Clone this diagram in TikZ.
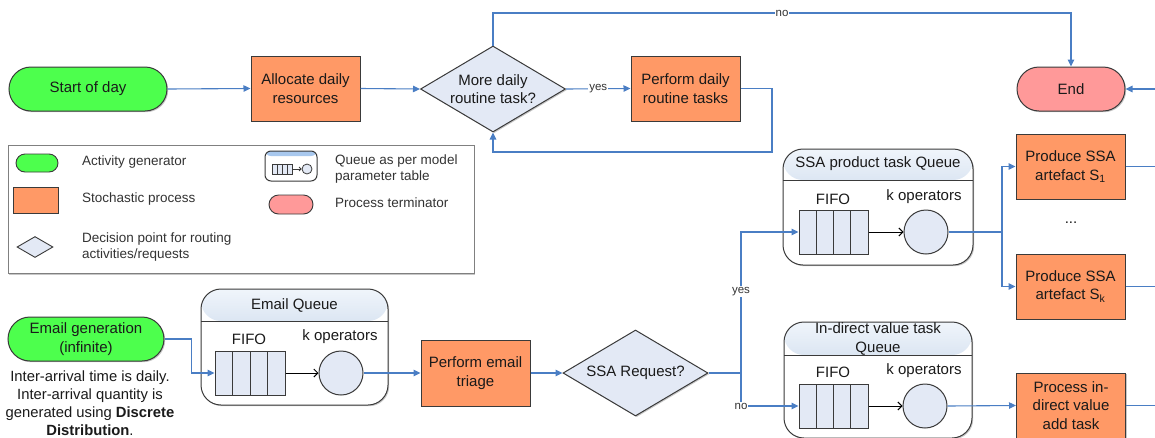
\documentclass[tikz,border=0pt]{standalone}
\usepackage{fontspec}
\setmainfont{Liberation Sans}
\usetikzlibrary{shapes.geometric,arrows.meta,calc,shadows}
\definecolor{genc}{HTML}{4DFF4D}
\definecolor{procc}{HTML}{FF9966}
\definecolor{termc}{HTML}{FF9999}
\definecolor{decc}{HTML}{E3E9F5}
\definecolor{cellc}{HTML}{E3E9F5}
\definecolor{flowc}{HTML}{4A7EC4}
\definecolor{bordc}{HTML}{3A3A3A}
\definecolor{qtop}{HTML}{F0F5FB}
\definecolor{qbot}{HTML}{A7BFDC}
\definecolor{txtc}{HTML}{1A1A1A}
\definecolor{legtxt}{HTML}{333333}
\definecolor{iconhdr}{HTML}{A8C8EE}
\begin{document}
\begin{tikzpicture}[x=1pt,y=-1pt,
  every node/.style={text=txtc},
  mainf/.style={font=\fontsize{15}{18.5}\selectfont},
  smallf/.style={font=\fontsize{11.5}{13}\selectfont},
  legf/.style={font=\fontsize{13.5}{16}\selectfont, text=legtxt},
  shad/.style={drop shadow={shadow xshift=1.2pt,shadow yshift=-1.2pt,fill=black,opacity=0.22}},
  gen/.style={draw=bordc, line width=1pt, fill=genc, rounded corners=22pt, minimum width=158pt, minimum height=44pt, inner sep=0pt, align=center, mainf, shad},
  term/.style={draw=bordc, line width=1pt, fill=termc, rounded corners=22pt, minimum width=108pt, minimum height=44pt, inner sep=0pt, align=center, mainf, shad},
  procbox/.style={draw=bordc, line width=1pt, fill=procc, minimum width=109pt, minimum height=65pt, inner sep=0pt, align=center, mainf, shad},
  decision/.style={draw=bordc, line width=1pt, fill=decc, shape=diamond, minimum width=145pt, minimum height=86pt, inner sep=0pt, shad},
  qcont/.style={draw=bordc, line width=1pt, fill=white, rounded corners=20pt, inner sep=0pt, shad,
    path picture={\shade[top color=qtop,bottom color=qbot] (path picture bounding box.north west) rectangle ([yshift=-#1]path picture bounding box.north east);
      \draw[bordc,line width=1pt] ([yshift=-#1]path picture bounding box.north west) -- ([yshift=-#1]path picture bounding box.north east);}},
  fifo/.style={draw=bordc, line width=1pt, fill=cellc, minimum width=69pt, minimum height=44pt, inner sep=0pt,
    path picture={\foreach \f in {0.25,0.5,0.75}{\draw[bordc,line width=1pt] ($(path picture bounding box.south west)!\f!(path picture bounding box.south east)$) -- ($(path picture bounding box.north west)!\f!(path picture bounding box.north east)$);}}},
  minififo/.style={draw=bordc, line width=0.7pt, fill=cellc, minimum width=20pt, minimum height=10pt, inner sep=0pt,
    path picture={\foreach \f in {0.25,0.5,0.75}{\draw[bordc,line width=0.7pt] ($(path picture bounding box.south west)!\f!(path picture bounding box.south east)$) -- ($(path picture bounding box.north west)!\f!(path picture bounding box.north east)$);}}},
  oper/.style={draw=bordc, line width=1pt, fill=cellc, circle, minimum size=44pt, inner sep=0pt},
  flow/.style={draw=flowc, line width=1.1pt, -{Triangle[length=7pt,width=6.5pt]}},
  flowline/.style={draw=flowc, line width=1.1pt},
  qarrow/.style={draw=black, line width=1pt, -{Straight Barb[length=4pt,width=8pt]}},
  lbl/.style={smallf, fill=white, inner sep=1pt, text=legtxt},
  plain/.style={inner sep=0pt}
]
\clip (0,0) rectangle (1155,437);
\fill[white] (0,0) rectangle (1155,437);

% ---------- top row ----------
\node[gen] (start) at (88,89) {Start of day};
\node[procbox] (alloc) at (305.5,88.5) {Allocate daily\\resources};
\node[decision] (more) at (493,89) {};
\node[mainf, align=center, plain] (moret) at (493,89) {More daily\\routine task?};
\node[procbox] (perf) at (685.5,88.5) {Perform daily\\routine tasks};
\node[term] (endn) at (1071,89) {End};
\coordinate (topy) at (0,13);
\coordinate (loopR) at (772,152);
\coordinate (endin) at (1155,89);

\draw[flow] (start.east) -- (alloc.west);
\draw[flow] (alloc.east) -- (more.west);
\draw[flow] (more.east) -- node[lbl, pos=0.5] (yes1) {yes} (perf.west);
\draw[flow] (more.north) -- (more.north |- topy) -| node[lbl, pos=0.25] (no1) {no} (endn.north);
\draw[flow] (perf.east) -| (loopR) -| (more.south);
\draw[flow] (endin) -- (endn.east);

% ---------- legend ----------
\node[draw=gray, line width=1pt, minimum width=466pt, minimum height=128pt, inner sep=0pt, shad, fill=white] (legend) at (241,209.5) {};
\node[draw=bordc, line width=0.9pt, fill=genc, rounded corners=9pt, minimum width=42pt, minimum height=18pt, inner sep=0pt] (lg1) at (37,163) {};
\node[legf, anchor=west, plain] (lt1) at (82,162) {Activity generator};
\node[draw=bordc, line width=0.9pt, fill=procc, minimum width=45pt, minimum height=26pt, inner sep=0pt] (lg2) at (35.5,200) {};
\node[legf, anchor=west, plain] (lt2) at (82,199) {Stochastic process};
\node[draw=bordc, line width=0.9pt, fill=decc, shape=diamond, minimum width=36pt, minimum height=21pt, inner sep=0pt] (lg3) at (35,247) {};
\node[legf, anchor=west, align=left, plain] (lt3) at (82,247) {Decision point for routing\\activities/requests};
\node[draw=bordc, line width=1pt, fill=white, rounded corners=6pt, minimum width=52pt, minimum height=30pt, inner sep=0pt,
  path picture={\fill[iconhdr] (path picture bounding box.north west) rectangle ([yshift=-5pt]path picture bounding box.north east);}] (lgq) at (291,166) {};
\node[minififo] (lgqf) at (282,169) {};
\node[draw=bordc, line width=0.8pt, fill=cellc, circle, minimum size=10pt, inner sep=0pt] (lgqc) at (307,169) {};
\draw[draw=bordc, line width=0.8pt, -{Straight Barb[length=2pt,width=4pt]}] (lgqf.east) -- (lgqc.west);
\node[legf, anchor=west, align=left, plain] (lt4) at (335,169.5) {Queue as per model\\parameter table};
\node[draw=bordc, line width=0.9pt, fill=termc, rounded corners=9.5pt, minimum width=44pt, minimum height=19pt, inner sep=0pt] (lg5) at (291,204.5) {};
\node[legf, anchor=west, plain] (lt5) at (335,203) {Process terminator};

% ---------- email branch ----------
\node[gen, minimum width=156pt] (egen) at (86,339) {Email generation\\(infinite)};
\node[align=center, plain, font=\fontsize{14.8}{18}\selectfont] (note) at (90,403) {Inter-arrival time is daily.\\Inter-arrival quantity is\\generated using \textbf{Discrete}\\\textbf{Distribution}.};

\node[qcont=32pt, minimum width=187pt, minimum height=116pt] (qE) at (294.5,347) {};
\node[mainf, plain] (qEt) at (294.5,305) {Email Queue};
\node[fifo, minimum width=70pt] (fifoE) at (250,373) {};
\node[oper] (circE) at (341,373) {};
\node[mainf, plain] (fifoEt) at (249,339) {FIFO};
\node[mainf, plain] (opEt) at (340,337) {k operators};
\node[procbox, minimum height=66pt] (triage) at (475.5,373) {Perform email\\triage};
\node[decision] (ssa) at (635.5,373) {};
\node[mainf, plain] (ssat) at (635.5,373) {SSA Request?};

\draw[flow] (egen.east) -| ($(fifoE.west)+(-23,0)$) -- (fifoE.west);
\draw[qarrow] (fifoE.east) -- (circE.west);
\draw[flow] (circE.east) -- (triage.west);
\draw[flow] (triage.east) -- (ssa.west);

% ---------- SSA product queue ----------
\node[qcont=31pt, minimum width=190pt, minimum height=116pt] (qS) at (878,207) {};
\node[mainf, plain] (qSt) at (878,164) {SSA product task Queue};
\node[fifo] (fifoS) at (833.5,232) {};
\node[oper] (circS) at (926,232) {};
\node[mainf, plain] (fifoSt) at (833,199) {FIFO};
\node[mainf, plain] (opSt) at (924,197) {k operators};

\node[procbox] (s1) at (1070.5,166.5) {Produce SSA\\artefact S\textsubscript{1}};
\node[mainf, plain] (dots) at (1071,223) {...};
\node[procbox] (sk) at (1070.5,286.5) {Produce SSA\\artefact S\textsubscript{k}};

% ---------- indirect queue ----------
\node[qcont=33pt, minimum width=188pt, minimum height=116pt] (qI) at (878,380) {};
\node[mainf, align=center, plain] (qIt) at (878,339) {In-direct value task\\Queue};
\node[fifo] (fifoI) at (833.5,406) {};
\node[oper] (circI) at (925,406) {};
\node[mainf, plain] (fifoIt) at (833,372) {FIFO};
\node[mainf, plain] (opIt) at (924,371) {k operators};
\node[procbox] (proc) at (1071,405.5) {Process in-\\direct value\\add task};

% ---------- connectors right ----------
\coordinate (sj) at (741,373);
\coordinate (split) at (1002,232);
\draw[flowline] (ssa.east) -- (sj);
\draw[flow] (sj) |- node[lbl, pos=0.29] (yes2) {yes} (fifoS.west);
\draw[flow] (sj) |- node[lbl, pos=0.5] (no2) {no} (fifoI.west);
\draw[qarrow] (fifoS.east) -- (circS.west);
\draw[flowline] (circS.east) -- (split);
\draw[flow] (split) |- (s1.west);
\draw[flow] (split) |- (sk.west);
\draw[qarrow] (fifoI.east) -- (circI.west);
\draw[flow] (circI.east) -- (proc.west);
\draw[flowline] (s1.east) -- (s1.east -| endin);
\draw[flowline] (sk.east) -- (sk.east -| endin);
\draw[flowline] (proc.east) -- (proc.east -| endin);
\end{tikzpicture}
\end{document}
